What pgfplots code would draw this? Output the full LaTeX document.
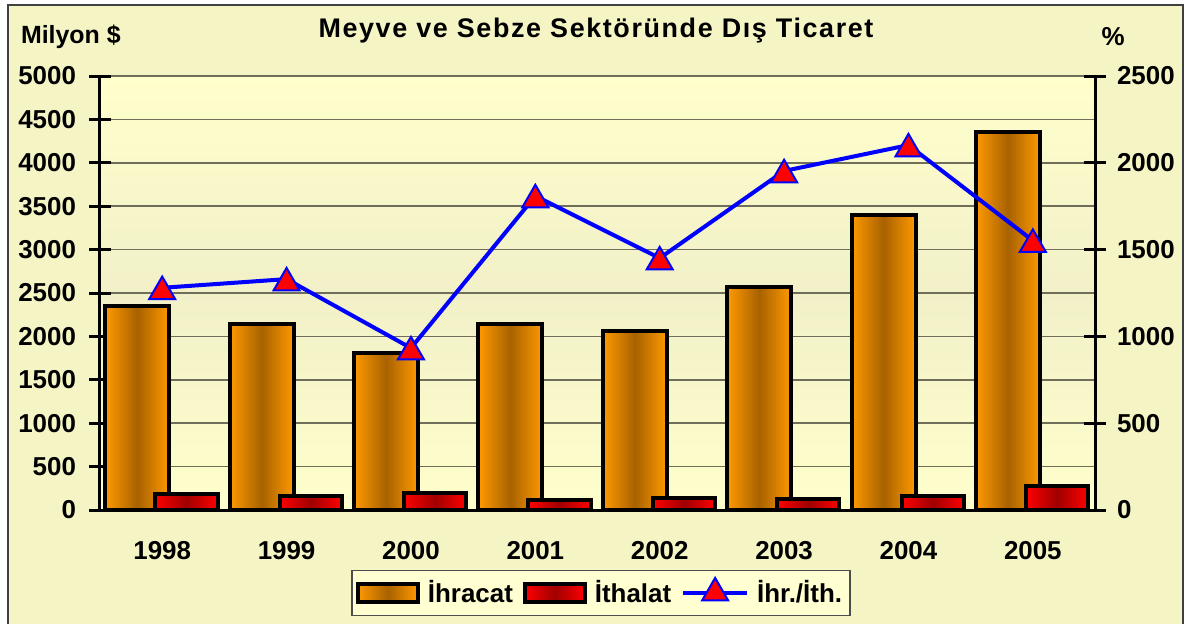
\documentclass[border=0pt]{standalone}
\usepackage{pgfplots}
\pgfplotsset{compat=1.18}
\usepackage{fontspec}
\setmainfont{Liberation Sans}
\newfontfamily\titlefont[LetterSpace=6]{Liberation Sans}

\definecolor{outerbg}{HTML}{F5F4C5}
\definecolor{plotA}{HTML}{FFFFCC}
\definecolor{plotB}{HTML}{F1F0C8}
\definecolor{orng}{HTML}{FF9900}
\definecolor{brn}{HTML}{A86200}
\definecolor{rd}{HTML}{FF0000}
\definecolor{drd}{HTML}{A00000}
\definecolor{gridc}{HTML}{6E6E5A}
\definecolor{legbg}{HTML}{FFFFD2}

\pgfplotsset{
  chartfont/.style={font=\bfseries\fontsize{13}{15}\selectfont},
  baraxis/.style={
    at={(0,0)}, anchor=south west,
    width=497.5bp, height=217bp, scale only axis,
    xmin=-0.5, xmax=7.5,
    axis line style={black, line width=1.5bp},
    tick style={black, line width=1.5bp},
    major tick length=11bp, tick align=center,
    ticklabel style={chartfont},
    /pgf/number format/assume math mode=true,
    /pgf/number format/set thousands separator={},
  },
  bar legend/.style={legend image code/.code={
    \draw[##1, line width=2bp] (0bp,-4.5bp) rectangle (30bp,4.5bp);}},
  tri legend/.style={legend image code/.code={
    \draw[##1, mark=none] (0bp,0bp) -- (32bp,0bp);
    \draw[##1] plot coordinates {(16bp,0bp)};}},
  % every bar is its own plot, so that each one gets its own shading
  ihr/.style={ybar, bar width=0.515, bar shift=-0.2, draw=black, line width=2bp,
    left color=orng, right color=orng, middle color=brn, bar legend},
  ith/.style={ybar, bar width=0.5, bar shift=0.195, draw=black, line width=2bp,
    left color=rd, right color=rd, middle color=drd, bar legend},
}

\begin{document}
\begin{tikzpicture}[x=1bp,y=1bp]
% one pixel of the reference is 0.5bp; plot area from (0,0) to (497.5,217)
\useasboundingbox (-50,-56.5) rectangle (546.5,255);
\fill[white] (-50,-56.5) rectangle (546.5,255);
\fill[outerbg] (-46,-62) rectangle (541.5,252.5);
\draw[black!75, line width=1bp] (-46,-62) rectangle (541.5,252.5);
\shade[top color=plotA, bottom color=plotA, middle color=plotB] (0,0) rectangle (497.5,217);

\begin{axis}[baraxis,
    ymin=0, ymax=5000,
    axis lines*=left,
    ytick={0,500,...,5000},
    ymajorgrids, grid style={gridc, line width=0.8bp},
    xtick={0,...,7},
    xticklabels={1998,1999,2000,2001,2002,2003,2004,2005},
    major x tick style={draw=none},
    extra x ticks={0.5,1.5,...,6.5},
    extra x tick labels={},
    extra x tick style={grid=none},
    xticklabel style={yshift=-6.5bp},
    yticklabel style={xshift=-3bp},
    legend columns=3,
    legend style={at={(0.5035,-0.191)}, anchor=center,
      draw=black!70, fill=legbg, line width=0.8bp,
      chartfont, inner xsep=2bp, inner ysep=3bp,
      /tikz/every odd column/.append style={column sep=2bp},
      /tikz/every even column/.append style={column sep=3bp}},
    legend cell align=left,
  ]
% İhracat
\addplot[ihr] coordinates {(0,2350)};
\addlegendentry{İhracat}
\addplot[ihr, forget plot] coordinates {(1,2140)};
\addplot[ihr, forget plot] coordinates {(2,1810)};
\addplot[ihr, forget plot] coordinates {(3,2140)};
\addplot[ihr, forget plot] coordinates {(4,2060)};
\addplot[ihr, forget plot] coordinates {(5,2570)};
\addplot[ihr, forget plot] coordinates {(6,3400)};
\addplot[ihr, forget plot] coordinates {(7,4360)};
% İthalat
\addplot[ith] coordinates {(0,184)};
\addlegendentry{İthalat}
\addplot[ith, forget plot] coordinates {(1,161)};
\addplot[ith, forget plot] coordinates {(2,194)};
\addplot[ith, forget plot] coordinates {(3,118)};
\addplot[ith, forget plot] coordinates {(4,142)};
\addplot[ith, forget plot] coordinates {(5,132)};
\addplot[ith, forget plot] coordinates {(6,162)};
\addplot[ith, forget plot] coordinates {(7,282)};
\addlegendimage{blue, line width=2bp, mark=triangle*, mark size=7.5bp,
  mark options={fill=red, draw=blue, line width=1bp}, tri legend}
\addlegendentry{İhr./İth.}
\end{axis}

\begin{axis}[baraxis,
    ymin=0, ymax=2500,
    axis y line*=right, axis x line=none,
    ytick={0,500,...,2500},
    yticklabel style={xshift=2bp},
  ]
\addplot[blue, line width=2bp, mark=triangle*, mark size=7.5bp,
  mark options={fill=red, draw=blue, line width=1bp, yshift=-1.9bp}]
  coordinates {(0,1280) (1,1330) (2,933) (3,1809) (4,1451) (5,1953) (6,2102) (7,1552)};
\end{axis}

\node[font=\titlefont\bfseries\fontsize{13.5}{16}\selectfont] at (248,239.5) {Meyve ve Sebze Sektöründe Dış Ticaret};
\node[anchor=west, font=\bfseries\fontsize{12.5}{15}\selectfont] at (-43,236.5) {Milyon \$};
\node[font=\bfseries\fontsize{13}{15}\selectfont] at (506.5,236.5) {\%};
\end{tikzpicture}
\end{document}
